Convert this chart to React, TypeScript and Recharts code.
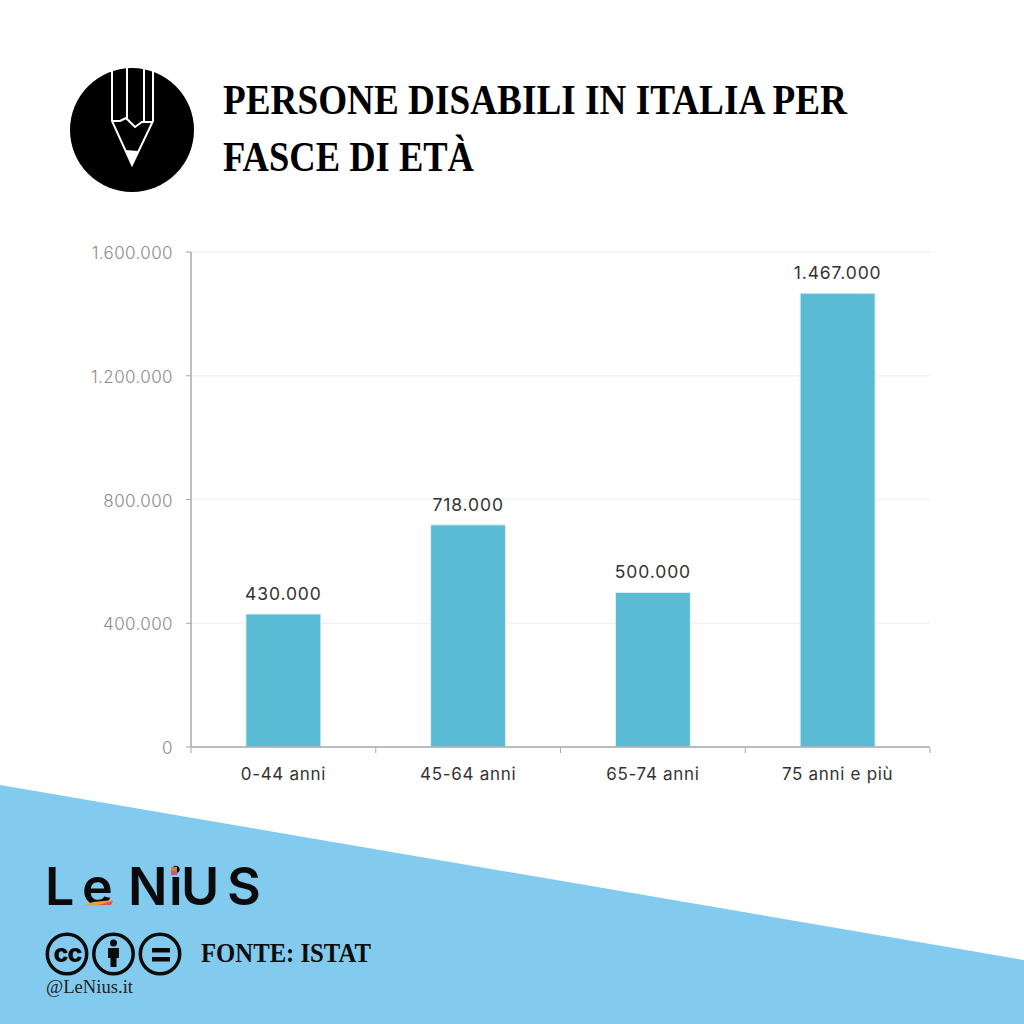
import React from "react";
import { BarChart, Bar, XAxis, YAxis, CartesianGrid, LabelList } from "recharts";

const categories = ["0-44 anni", "45-64 anni", "65-74 anni", "75 anni e più"];
const values = [430000, 718000, 500000, 1467000];
const yTicks = [0, 400000, 800000, 1200000, 1600000];
const titleLines = ["PERSONE DISABILI IN ITALIA PER", "FASCE DI ETÀ"];
const titleWidths = [624, 251];
const sourceText = "FONTE: ISTAT";
const handleText = "@LeNius.it";
const logoLetters = "LeNiUS";

const data = categories.map((name, i) => ({ name, value: values[i] }));
const fmt = (v: number) => String(v).replace(/\B(?=(\d{3})+(?!\d))/g, ".");
const SANS = "Inter, 'Open Sans', sans-serif";
const SERIF = "'Liberation Serif', serif";
const AXIS = "#A8A8A8";
const BAND = 184.75;

function Backdrop() {
  return (
    <svg width={1024} height={1024} style={{ position: "absolute", left: 0, top: 0 }}>
      <rect width={1024} height={1024} fill="#ffffff" />
      <polygon points="0,785 1024,960 1024,1024 0,1024" fill="#82CBEE" />
      <circle cx={132} cy={130} r={62} fill="#000" />
      <g fill="none" stroke="#fff" strokeWidth={2}>
        <path d="M112,70 V121 L132,165 L153,121 V71" />
        <path d="M127,68 V120 M144,68 V122" />
        <path d="M112,121 L120,121 L126,118 L135,127 L142,122 L153,122" />
      </g>
      <path d="M125,150 L138,151 L132,165 Z" fill="#fff" />
      {titleLines.map((t, i) => (
        <text key={t} x={223} y={114 + i * 57} fontFamily={SERIF} fontWeight={700} fontSize={41.5} fill="#000"
          textLength={titleWidths[i]} lengthAdjust="spacingAndGlyphs">{t}</text>
      ))}
      <text x="45 82 128 169 181 227" y={905} fontFamily={SANS} fontSize={52} fontWeight={600} fill="#0a0a0a">{logoLetters}</text>
      <rect x={171} y={867} width={6} height={4} fill="#C9813F" />
      <rect x={171} y={871} width={6} height={4} fill="#D9506A" />
      <path d="M82,906 L93,902 L113,900 L111,905 Z" fill="#E8A03A" />
      <path d="M98,905 L113,901 L111,905 Z" fill="#D9506A" />
      <g fill="none" stroke="#0a0a0a" strokeWidth={3.5}>
        <circle cx={67} cy={954} r={19.7} />
        <circle cx={113.5} cy={954} r={19.7} />
        <circle cx={160} cy={954} r={19.7} />
      </g>
      <text x={67.5} y={962} textAnchor="middle" fontFamily={SANS} fontWeight={800} fontSize={25} letterSpacing={-1} fill="#0a0a0a">cc</text>
      <circle cx={113.5} cy={943} r={3.5} fill="#0a0a0a" />
      <path d="M108,948 H119 V958 H116.5 V967 H110.5 V958 H108 Z" fill="#0a0a0a" />
      <rect x={152} y={948} width={18} height={4.5} fill="#0a0a0a" />
      <rect x={152} y={957} width={18} height={4.5} fill="#0a0a0a" />
      <text x={201} y={962} fontFamily={SERIF} fontWeight={700} fontSize={28} fill="#0d0d0d"
        textLength={170} lengthAdjust="spacingAndGlyphs">{sourceText}</text>
      <text x={46} y={993} fontFamily={SERIF} fontWeight={400} fontSize={18} fill="#222"
        textLength={87} lengthAdjust="spacingAndGlyphs">{handleText}</text>
    </svg>
  );
}

function CategoryTick(props: any) {
  const { x, y, payload, index } = props;
  const left = x - BAND / 2;
  return (
    <g>
      <line x1={left} x2={left} y1={y - 13} y2={y - 8} stroke={AXIS} />
      {index === categories.length - 1 && (
        <line x1={left + BAND} x2={left + BAND} y1={y - 13} y2={y - 8} stroke={AXIS} />
      )}
      <text x={x} y={y + 19} textAnchor="middle" fontFamily={SANS} fontSize={17} letterSpacing={0.7} fill="#333">
        {payload.value}
      </text>
    </g>
  );
}

export default function App() {
  return (
    <div style={{ position: "absolute", left: 0, top: 0, width: 1024, height: 1024, overflow: "hidden" }}>
      <Backdrop />
      <div style={{ position: "absolute", left: 0, top: 0 }}>
        <BarChart
          width={1024}
          height={1024}
          data={data}
          margin={{ top: 252, right: 94, bottom: 227, left: 121 }}
          barCategoryGap="29.7%"
        >
          <CartesianGrid horizontal vertical={false} stroke="#F2F2F2" strokeWidth={1.5} />
          <XAxis
            dataKey="name"
            interval={0}
            height={50}
            tickLine={false}
            tickMargin={8}
            axisLine={{ stroke: AXIS, strokeWidth: 1.5 }}
            tick={<CategoryTick />}
          />
          <YAxis
            width={70}
            domain={[0, 1600000]}
            ticks={yTicks}
            tickFormatter={fmt}
            tickLine={{ stroke: AXIS }}
            tickSize={5}
            tickMargin={13}
            axisLine={{ stroke: AXIS, strokeWidth: 1.5 }}
            tick={{ fontFamily: SANS, fontSize: 17, fontWeight: 300, letterSpacing: 0.4, fill: "#8C8C8C", dy: 1 }}
          />
          <Bar dataKey="value" fill="#5ABBD4" stroke="#E8F3F6" strokeWidth={1} isAnimationActive={false}>
            <LabelList
              dataKey="value"
              position="top"
              offset={14}
              formatter={(v: number) => fmt(v)}
              style={{ fontFamily: SANS, fontSize: 17.5, letterSpacing: 0.9, fill: "#333", stroke: "none" }}
            />
          </Bar>
        </BarChart>
      </div>
    </div>
  );
}
